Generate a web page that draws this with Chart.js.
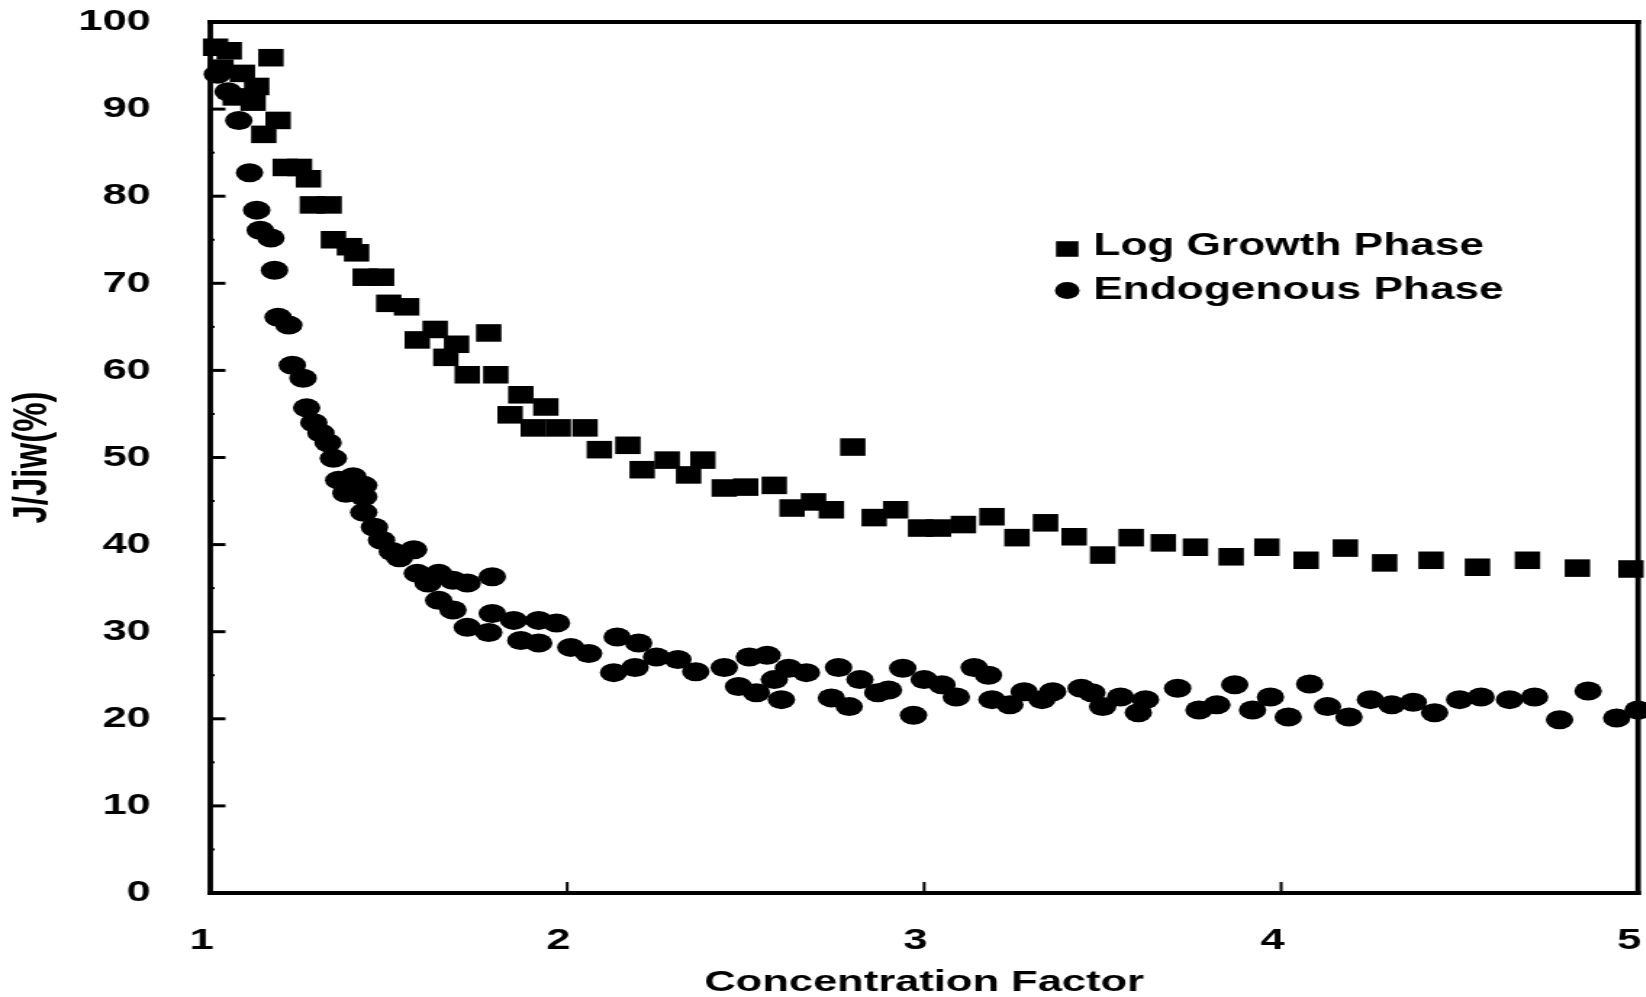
<!DOCTYPE html>
<html>
<head>
<meta charset="utf-8">
<script src="https://cdn.jsdelivr.net/npm/chart.js@4/dist/chart.umd.min.js"></script>
<style>
  html, body { margin: 0; padding: 0; background: #fff; overflow: hidden; }
  /* the figure is drawn narrow and widened, which gives the broad lettering and marks */
  #wrap { position: absolute; left: 0; top: 0; width: 1135px; height: 997px; transform: scaleX(1.45); transform-origin: 0 0; }
</style>
</head>
<body>
<div id="wrap"><canvas id="chart"></canvas></div>
<script>
const logGrowthX = [1.015, 1.053, 1.03, 1.09, 1.13, 1.07, 1.12, 1.17, 1.19, 1.15,
  1.21, 1.25, 1.275, 1.286, 1.333, 1.345, 1.39, 1.41, 1.434, 1.48,
  1.50, 1.55, 1.63, 1.58, 1.69, 1.78, 1.66, 1.72, 1.80, 1.87,
  1.94, 1.84, 1.905, 1.975, 2.05, 2.09, 2.17, 2.21, 2.28, 2.34,
  2.38, 2.44, 2.50, 2.58, 2.80, 2.63, 2.69, 2.74, 2.86, 2.92,
  2.99, 3.04, 3.11, 3.19, 3.26, 3.34, 3.42, 3.50, 3.58, 3.67,
  3.76, 3.86, 3.96, 4.07, 4.18, 4.29, 4.42, 4.55, 4.69, 4.83, 4.98];
const logGrowthY = [97.1, 96.7, 94.7, 94.1, 92.6, 91.4, 90.8, 95.9, 88.7, 87.1,
  83.3, 83.3, 82.0, 79.0, 79.0, 75.0, 74.2, 73.5, 70.7, 70.7,
  67.7, 67.3, 64.7, 63.5, 63.0, 64.3, 61.5, 59.5, 59.5, 57.2,
  55.8, 54.9, 53.4, 53.4, 53.4, 50.9, 51.4, 48.6, 49.7, 48.0,
  49.7, 46.5, 46.6, 46.8, 51.2, 44.2, 44.9, 44.0, 43.1, 44.0,
  41.9, 41.9, 42.3, 43.2, 40.8, 42.5, 40.9, 38.8, 40.8, 40.2,
  39.7, 38.6, 39.7, 38.2, 39.6, 37.9, 38.2, 37.4, 38.2, 37.3, 37.2];

const endoX = [1.02, 1.05, 1.08, 1.11, 1.13, 1.14, 1.17, 1.18, 1.19, 1.22,
  1.23, 1.26, 1.27, 1.29, 1.31, 1.33, 1.345, 1.36, 1.40, 1.43,
  1.38, 1.43, 1.43, 1.46, 1.48, 1.51, 1.57, 1.53, 1.58, 1.61,
  1.64, 1.68, 1.72, 1.79, 1.64, 1.68, 1.72, 1.79, 1.85, 1.92,
  1.97, 1.78, 1.87, 1.92, 2.01, 2.06, 2.14, 2.20, 2.13, 2.19,
  2.25, 2.31, 2.36, 2.44, 2.51, 2.56, 2.48, 2.53, 2.58, 2.60,
  2.62, 2.67, 2.76, 2.74, 2.79, 2.82, 2.87, 2.90, 2.94, 2.97,
  3.00, 3.05, 3.09, 3.14, 3.18, 3.19, 3.24, 3.28, 3.33, 3.36,
  3.44, 3.47, 3.50, 3.55, 3.60, 3.62, 3.71, 3.77, 3.82, 3.87,
  3.92, 3.97, 4.02, 4.08, 4.13, 4.19, 4.25, 4.31, 4.37, 4.43,
  4.50, 4.56, 4.64, 4.71, 4.78, 4.86, 4.94, 5.00];
const endoY = [94.0, 92.0, 88.7, 82.7, 78.4, 76.1, 75.2, 71.5, 66.1, 65.2,
  60.6, 59.1, 55.7, 54.0, 52.8, 51.7, 49.9, 47.4, 47.8, 46.8,
  45.9, 45.5, 43.7, 42.0, 40.5, 39.2, 39.4, 38.5, 36.7, 35.6,
  36.7, 35.9, 35.6, 36.3, 33.6, 32.5, 30.5, 32.1, 31.3, 31.3,
  31.0, 29.9, 29.0, 28.7, 28.2, 27.5, 29.4, 28.7, 25.3, 25.9,
  27.1, 26.8, 25.4, 25.9, 27.1, 27.3, 23.7, 23.0, 24.5, 22.2,
  25.8, 25.3, 25.9, 22.4, 21.4, 24.5, 23.0, 23.3, 25.8, 20.4,
  24.5, 23.9, 22.5, 25.9, 25.0, 22.2, 21.6, 23.1, 22.2, 23.1,
  23.5, 23.0, 21.4, 22.5, 20.7, 22.2, 23.5, 21.0, 21.6, 23.9,
  21.0, 22.5, 20.2, 24.0, 21.4, 20.2, 22.2, 21.6, 21.9, 20.7,
  22.2, 22.5, 22.2, 22.5, 19.9, 23.2, 20.1, 21.0];

const seriesNames = ["Log Growth Phase", "Endogenous Phase"];
const xTicks = [1, 2, 3, 4, 5];
const yTicks = [0, 10, 20, 30, 40, 50, 60, 70, 80, 90, 100];
const xTitle = "Concentration Factor";
const yTitle = "J/Jiw(%)";

Chart.defaults.font.family = '"Liberation Sans", Arial, sans-serif';
Chart.defaults.color = "#000";

const toPoints = (xs, ys) => xs.map((x, i) => ({ x, y: ys[i] }));

// fixed axis box sizes, and no extra room reserved for overhanging labels
const fixBox = (size) => (scale) => {
	if (scale.isHorizontal()) scale.height = size;
	else scale.width = size;
	scale.paddingTop = scale.paddingBottom = scale.paddingLeft = scale.paddingRight = 0;
};

// closed box with inward ticks, majors and short half-step minors on the y axis
const framePlugin = {
	id: "frame",
	afterDatasetsDraw(chart) {
		const { ctx, chartArea: a, scales } = chart;
		const vw = 3.8, hw = 4;
		ctx.save();
		ctx.fillStyle = "#000";
		ctx.fillRect(a.left - vw / 2, a.top - hw / 2, vw, a.bottom - a.top + hw);
		ctx.fillRect(a.right - vw / 2, a.top - hw / 2, vw, a.bottom - a.top + hw);
		ctx.fillRect(a.left - vw / 2, a.top - hw / 2, a.right - a.left + vw, hw);
		ctx.fillRect(a.left - vw / 2, a.bottom - hw / 2, a.right - a.left + vw, hw);

		yTicks.slice(1, -1).forEach((v) => {
			const y = scales.y.getPixelForValue(v);
			ctx.fillRect(a.left, y - 1.5, 10.5, 3);
		});
		for (let i = 0; i < yTicks.length - 1; i++) {
			const y = scales.y.getPixelForValue((yTicks[i] + yTicks[i + 1]) / 2);
			ctx.fillRect(a.left, y - 1, 3, 2);
		}
		xTicks.slice(1, -1).forEach((v) => {
			const x = scales.x.getPixelForValue(v);
			ctx.fillRect(x - 1, a.bottom - 11, 2, 11);
		});
		ctx.restore();
	},
};

// legend set inside the plot, upper right
const insetLegend = {
	id: "insetLegend",
	afterDraw(chart) {
		const ctx = chart.ctx;
		const markX = 736, textX = 754, top = 247, step = 43.5;
		ctx.save();
		ctx.fillStyle = "#000";
		ctx.font = 'bold 30.5px "Liberation Sans", Arial, sans-serif';
		ctx.textBaseline = "middle";
		ctx.textAlign = "left";
		chart.data.datasets.forEach((ds, i) => {
			const y = top + i * step;
			const isRect = ds.pointStyle === "rect";
			Chart.helpers.drawPoint(ctx, {
				pointStyle: ds.pointStyle,
				radius: isRect ? 11 : 8.5,
				rotation: 0,
				borderWidth: 0,
			}, markX, isRect ? y + 2 : y);
			ctx.fillText(ds.label, textX, y);
		});
		ctx.restore();
	},
};

new Chart(document.getElementById("chart"), {
	type: "scatter",
	data: {
		datasets: [
			{
				label: seriesNames[0],
				data: toPoints(logGrowthX, logGrowthY),
				pointStyle: "rect",
				pointRadius: 12.4,
				backgroundColor: "#000",
				borderWidth: 0,
				clip: false,
			},
			{
				label: seriesNames[1],
				data: toPoints(endoX, endoY),
				pointStyle: "circle",
				pointRadius: 9.5,
				backgroundColor: "#000",
				borderWidth: 0,
				clip: false,
			},
		],
	},
	options: {
		responsive: true,
		maintainAspectRatio: false,
		animation: false,
		events: [],
		layout: {
			autoPadding: false,
			padding: { top: 22, right: 5.3, bottom: 0, left: 0 },
		},
		plugins: {
			legend: { display: false },
			tooltip: { enabled: false },
		},
		scales: {
			x: {
				type: "linear",
				min: xTicks[0],
				max: xTicks[xTicks.length - 1],
				grid: { display: false, drawTicks: false },
				border: { display: false },
				afterBuildTicks: (scale) => { scale.ticks = xTicks.map((v) => ({ value: v })); },
				afterFit: fixBox(104),
				ticks: {
					padding: 30,
					labelOffset: -6,
					font: { size: 30, weight: "bold" },
				},
				title: {
					display: true,
					text: xTitle,
					padding: 0,
					font: { size: 30, weight: "bold", lineHeight: 0.93 },
				},
			},
			y: {
				type: "linear",
				min: yTicks[0],
				max: yTicks[yTicks.length - 1],
				grid: { display: false, drawTicks: false },
				border: { display: false },
				afterBuildTicks: (scale) => { scale.ticks = yTicks.map((v) => ({ value: v })); },
				afterFit: fixBox(145),
				ticks: {
					padding: 41,
					font: { size: 30, weight: "bold" },
				},
				title: {
					display: true,
					text: yTitle,
					padding: { top: 3, bottom: 0 },
					font: { size: 33, weight: "bold" },
				},
			},
		},
	},
	plugins: [framePlugin, insetLegend],
});
</script>
</body>
</html>
